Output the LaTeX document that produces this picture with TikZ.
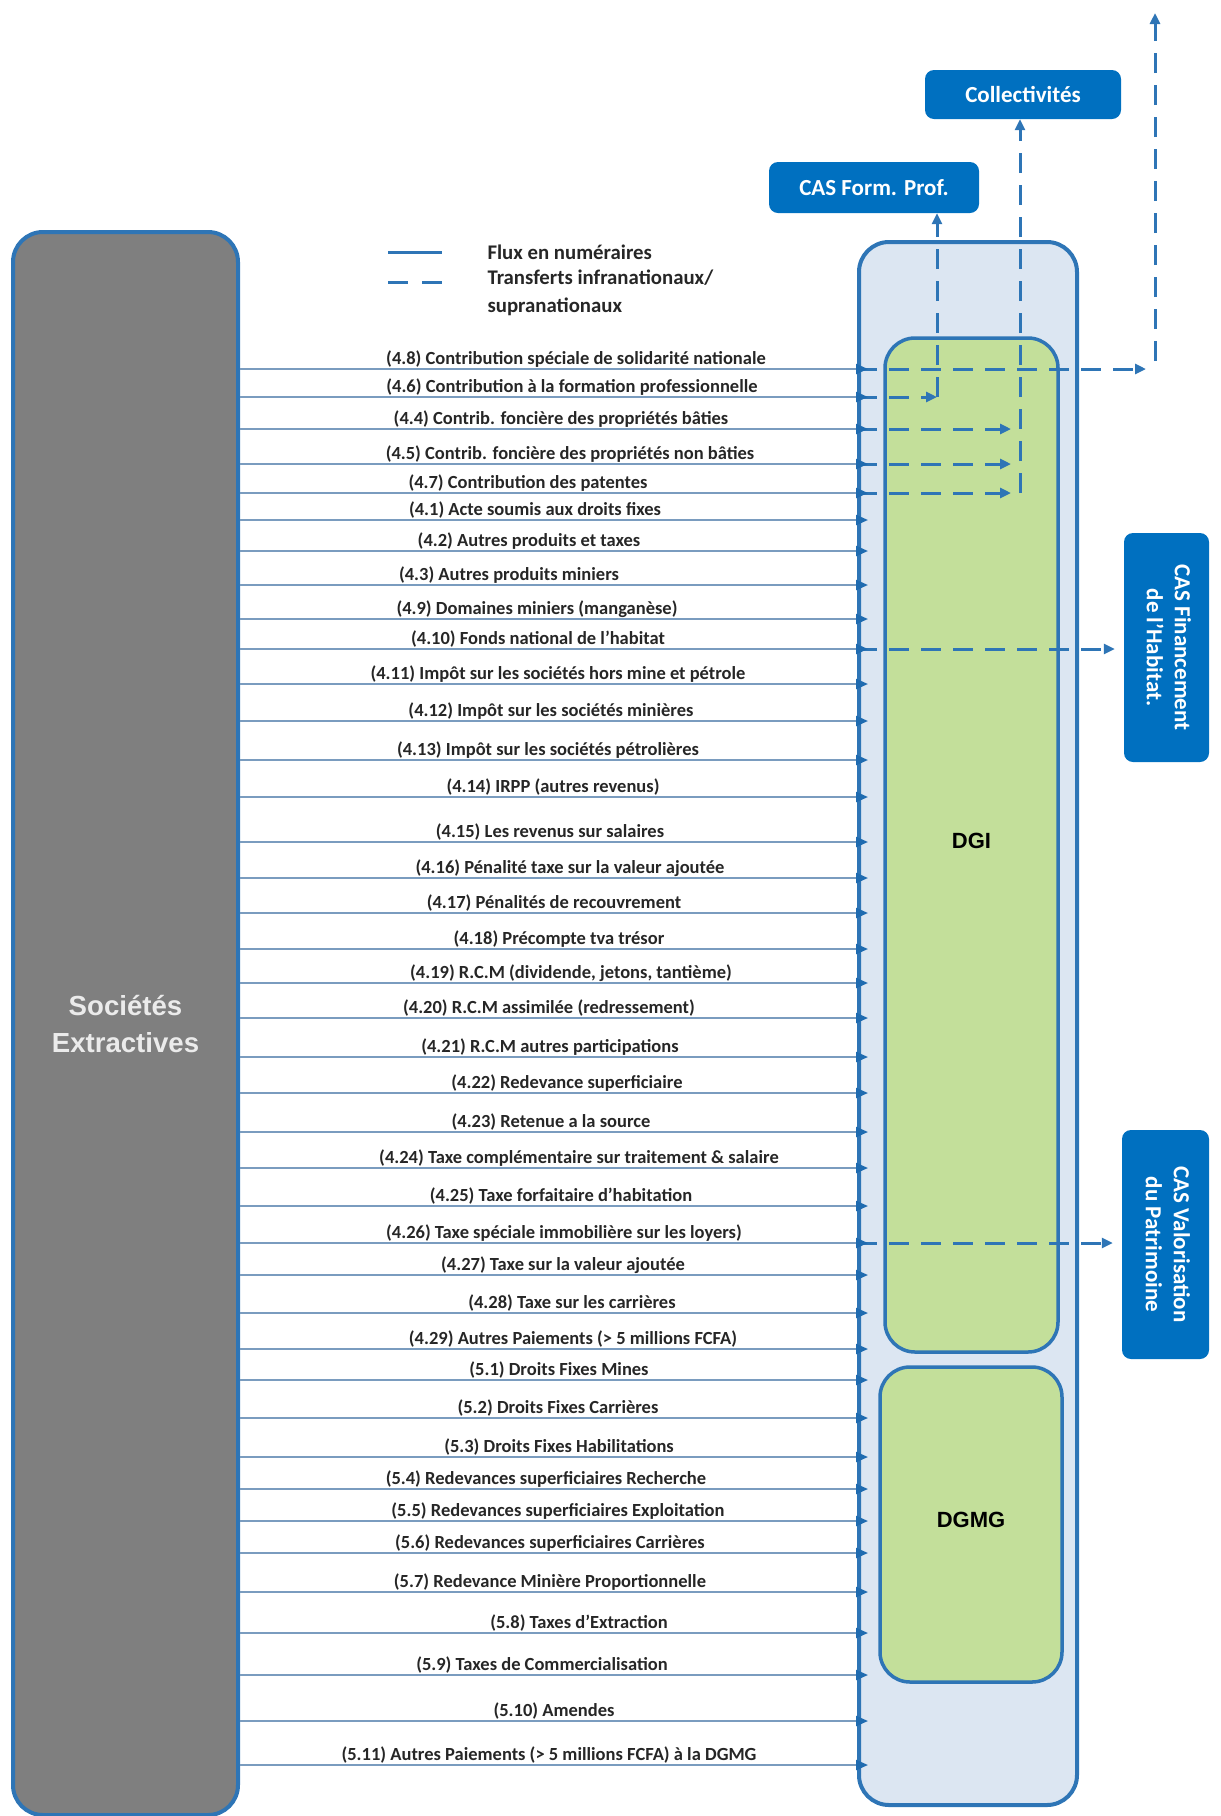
\documentclass[tikz,border=0pt]{standalone}
\usepackage{fontspec}
\setmainfont{Carlito}
\newfontfamily\headfont{Liberation Sans}
\usepackage{graphicx}
\usetikzlibrary{arrows.meta}

\definecolor{edgeblue}{HTML}{2E75B6}
\definecolor{boxblue}{HTML}{0070C0}
\definecolor{paleblue}{HTML}{DCE6F2}
\definecolor{dgigreen}{HTML}{C3DF9A}
\definecolor{flowgrey}{HTML}{7A9CBF}
\definecolor{tipblue}{HTML}{1F6BB0}
\definecolor{socgrey}{HTML}{7F7F7F}

\begin{document}
\begin{tikzpicture}[x=1pt,y=-1pt,
    main node/.style={rectangle,draw=edgeblue,line width=4pt,rounded corners=30pt},
    green node/.style={rectangle,draw=edgeblue,line width=3.5pt,rounded corners=30pt,fill=dgigreen,
        font=\headfont\bfseries\fontsize{22}{26}\selectfont},
    blue node/.style={rectangle,rounded corners=9pt,fill=boxblue,text=white,align=center,
        font=\bfseries\fontsize{23}{28}\selectfont},
    label text/.style={above,inner sep=1.5pt,text=black!85,font=\bfseries\fontsize{18.5}{21}\selectfont},
    legend text/.style={anchor=west,align=left,text=black!85,font=\bfseries\fontsize{20.8}{28}\selectfont},
    flow line/.style={draw=flowgrey,line width=2.2pt,shorten >=-11pt,
        -{Triangle[length=12pt,width=10pt,color=tipblue]}},
    transfer line/.style={draw=edgeblue,line width=3pt,dash pattern=on 20pt off 12pt,
        -{Triangle[length=11pt,width=10pt]}}]

    \useasboundingbox (0,0) rectangle (1221,1816);

    % entities
    \node[main node,fill=socgrey,minimum width=225pt,minimum height=1583pt,align=center,
        text=white!92!black,font=\headfont\bfseries\fontsize{27.6}{37}\selectfont]
        (soc) at (125.5,1023.5) {Sociétés\\Extractives};
    \node[main node,fill=paleblue,minimum width=218pt,minimum height=1563pt] (org) at (968,1023.5) {};
    \node[green node,minimum width=173pt,minimum height=1014pt] (dgi) at (971.5,845) {\raisebox{8pt}{DGI}};
    \node[green node,minimum width=182pt,minimum height=315pt] (dgmg) at (971,1524.5) {\raisebox{9pt}{DGMG}};

    \node[blue node,minimum width=210pt,minimum height=51pt] (casfp) at (874,187.5) {CAS Form. Prof.};
    \node[blue node,minimum width=196pt,minimum height=49pt] (coll) at (1023,94.5) {Collectivités};
    \node[blue node,minimum width=85pt,minimum height=229pt] (cashab) at (1166.5,647.5)
        {\rotatebox{-90}{\begin{tabular}{@{}c@{}}CAS Financement\\de l'Habitat.\end{tabular}}};
    \node[blue node,minimum width=87pt,minimum height=229pt] (casval) at (1165.5,1244.5)
        {\rotatebox{-90}{\begin{tabular}{@{}c@{}}CAS Valorisation\\du Patrimoine\end{tabular}}};

    % legend
    \coordinate (k1) at (388,252);
    \coordinate (k2) at (442,252);
    \coordinate (k3) at (388,282);
    \coordinate (k4) at (442,282);
    \draw[draw=edgeblue,line width=3pt] (k1) -- (k2);
    \draw[draw=edgeblue,line width=3pt,dash pattern=on 20pt off 14pt] (k3) -- (k4);
    \node[legend text] (lg1) at (484,252) {Flux en numéraires};
    \node[legend text] (lg2) at (484,293) {Transferts infranationaux/\\supranationaux};

    % payment labels
    \node[label text] (l48) at (576,369) {(4.8) Contribution spéciale de solidarité nationale};
    \node[label text] (l46) at (572,397) {(4.6) Contribution à la formation professionnelle};
    \node[label text] (l44) at (561,429) {(4.4) Contrib. foncière des propriétés bâties};
    \node[label text] (l45) at (570,464) {(4.5) Contrib. foncière des propriétés non bâties};
    \node[label text] (l47) at (528,493) {(4.7) Contribution des patentes};
    \node[label text] (l41) at (535,520) {(4.1) Acte soumis aux droits fixes};
    \node[label text] (l42) at (529,551) {(4.2) Autres produits et taxes};
    \node[label text] (l43) at (509,585) {(4.3) Autres produits miniers};
    \node[label text] (l49) at (537,619) {(4.9) Domaines miniers (manganèse)};
    \node[label text] (l410) at (538,649) {(4.10) Fonds national de l'habitat};
    \node[label text] (l411) at (558,684) {(4.11) Impôt sur les sociétés hors mine et pétrole};
    \node[label text] (l412) at (551,721) {(4.12) Impôt sur les sociétés minières};
    \node[label text] (l413) at (548,760) {(4.13) Impôt sur les sociétés pétrolières};
    \node[label text] (l414) at (553,797) {(4.14) IRPP (autres revenus)};
    \node[label text] (l415) at (550,842) {(4.15) Les revenus sur salaires};
    \node[label text] (l416) at (570,878) {(4.16) Pénalité taxe sur la valeur ajoutée};
    \node[label text] (l417) at (554,913) {(4.17) Pénalités de recouvrement};
    \node[label text] (l418) at (559,949) {(4.18) Précompte tva trésor};
    \node[label text] (l419) at (571,983) {(4.19) R.C.M (dividende, jetons, tantième)};
    \node[label text] (l420) at (549,1018) {(4.20) R.C.M assimilée (redressement)};
    \node[label text] (l421) at (550,1057) {(4.21) R.C.M autres participations};
    \node[label text] (l422) at (567,1093) {(4.22) Redevance superficiaire};
    \node[label text] (l423) at (551,1132) {(4.23) Retenue a la source};
    \node[label text] (l424) at (579,1168) {(4.24) Taxe complémentaire sur traitement \& salaire};
    \node[label text] (l425) at (561,1206) {(4.25) Taxe forfaitaire d'habitation};
    \node[label text] (l426) at (564,1243) {(4.26) Taxe spéciale immobilière sur les loyers)};
    \node[label text] (l427) at (563,1275) {(4.27) Taxe sur la valeur ajoutée};
    \node[label text] (l428) at (572,1313) {(4.28) Taxe sur les carrières};
    \node[label text] (l429) at (573,1349) {(4.29) Autres Paiements (> 5 millions FCFA)};
    \node[label text] (l51) at (559,1380) {(5.1) Droits Fixes Mines};
    \node[label text] (l52) at (558,1418) {(5.2) Droits Fixes Carrières};
    \node[label text] (l53) at (559,1457) {(5.3) Droits Fixes Habilitations};
    \node[label text] (l54) at (546,1489) {(5.4) Redevances superficiaires Recherche};
    \node[label text] (l55) at (558,1521) {(5.5) Redevances superficiaires Exploitation};
    \node[label text] (l56) at (550,1553) {(5.6) Redevances superficiaires Carrières};
    \node[label text] (l57) at (550,1592) {(5.7) Redevance Minière Proportionnelle};
    \node[label text] (l58) at (579,1633) {(5.8) Taxes d'Extraction};
    \node[label text] (l59) at (542,1675) {(5.9) Taxes de Commercialisation};
    \node[label text] (l510) at (554,1721) {(5.10) Amendes};
    \node[label text] (l511) at (549,1765) {(5.11) Autres Paiements (> 5 millions FCFA) à la DGMG};

    % transfers
    \coordinate (t48) at (1146,369);
    \coordinate (u48) at (1155,361);
    \coordinate (v48) at (1155,13);
    \coordinate (t46) at (937,397);
    \coordinate (t47) at (1020,493);
    \draw[transfer line] (org.west |- l48.south) -- (t48);
    \draw[transfer line] (u48) -- (v48);
    \draw[transfer line] (org.west |- l46.south) -- (t46);
    \draw[transfer line] (t46) -- (casfp.south -| t46);
    \draw[transfer line,shorten >=9pt] (org.west |- l44.south) -- (t47 |- l44.south);
    \draw[transfer line,shorten >=9pt] (org.west |- l45.south) -- (t47 |- l45.south);
    \draw[transfer line,shorten >=9pt] (org.west |- l47.south) -- (t47);
    \draw[transfer line] (t47) -- (coll.south -| t47);
    \draw[transfer line,shorten >=9pt] (org.west |- l410.south) -- (cashab.west |- l410.south);
    \draw[transfer line,shorten >=9pt] (org.west |- l426.south) -- (casval.west |- l426.south);

    % payments
    \path[every edge/.style={flow line}]
        (soc.east |- l48.south) edge (org.west |- l48.south)
        (soc.east |- l46.south) edge (org.west |- l46.south)
        (soc.east |- l44.south) edge (org.west |- l44.south)
        (soc.east |- l45.south) edge (org.west |- l45.south)
        (soc.east |- l47.south) edge (org.west |- l47.south)
        (soc.east |- l41.south) edge (org.west |- l41.south)
        (soc.east |- l42.south) edge (org.west |- l42.south)
        (soc.east |- l43.south) edge (org.west |- l43.south)
        (soc.east |- l49.south) edge (org.west |- l49.south)
        (soc.east |- l410.south) edge (org.west |- l410.south)
        (soc.east |- l411.south) edge (org.west |- l411.south)
        (soc.east |- l412.south) edge (org.west |- l412.south)
        (soc.east |- l413.south) edge (org.west |- l413.south)
        (soc.east |- l414.south) edge (org.west |- l414.south)
        (soc.east |- l415.south) edge (org.west |- l415.south)
        (soc.east |- l416.south) edge (org.west |- l416.south)
        (soc.east |- l417.south) edge (org.west |- l417.south)
        (soc.east |- l418.south) edge (org.west |- l418.south)
        (soc.east |- l419.south) edge (org.west |- l419.south)
        (soc.east |- l420.south) edge (org.west |- l420.south)
        (soc.east |- l421.south) edge (org.west |- l421.south)
        (soc.east |- l422.south) edge (org.west |- l422.south)
        (soc.east |- l423.south) edge (org.west |- l423.south)
        (soc.east |- l424.south) edge (org.west |- l424.south)
        (soc.east |- l425.south) edge (org.west |- l425.south)
        (soc.east |- l426.south) edge (org.west |- l426.south)
        (soc.east |- l427.south) edge (org.west |- l427.south)
        (soc.east |- l428.south) edge (org.west |- l428.south)
        (soc.east |- l429.south) edge (org.west |- l429.south)
        (soc.east |- l51.south) edge (org.west |- l51.south)
        (soc.east |- l52.south) edge (org.west |- l52.south)
        (soc.east |- l53.south) edge (org.west |- l53.south)
        (soc.east |- l54.south) edge (org.west |- l54.south)
        (soc.east |- l55.south) edge (org.west |- l55.south)
        (soc.east |- l56.south) edge (org.west |- l56.south)
        (soc.east |- l57.south) edge (org.west |- l57.south)
        (soc.east |- l58.south) edge (org.west |- l58.south)
        (soc.east |- l59.south) edge (org.west |- l59.south)
        (soc.east |- l510.south) edge (org.west |- l510.south)
        (soc.east |- l511.south) edge (org.west |- l511.south);

\end{tikzpicture}
\end{document}
